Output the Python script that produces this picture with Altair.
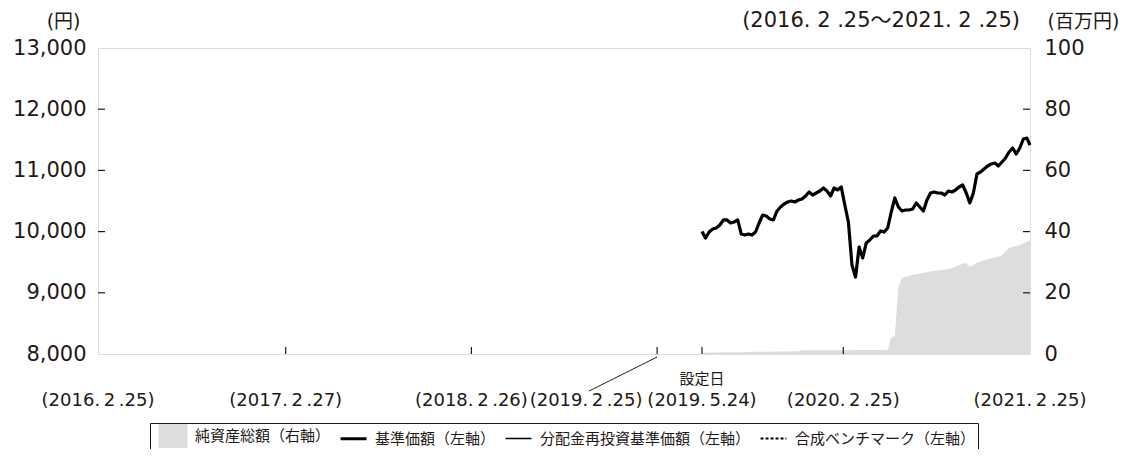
import altair as alt
import pandas as pd

# ---------------- data ----------------
week_start = "2019-05-24"
last_date = "2021-02-25"

# 基準価額 (weekly reading, last value = 2021-02-25)
nav = [10000, 9895, 9993, 10043, 10059, 10108, 10190, 10190, 10141, 10157,
       10190, 9961, 9944, 9961, 9944, 9993, 10141, 10271, 10255, 10206,
       10190, 10337, 10402, 10451, 10484, 10500, 10484, 10516, 10533, 10582,
       10647, 10598, 10631, 10663, 10712, 10663, 10582, 10712, 10680, 10729,
       10435, 10157, 9454, 9258, 9748, 9569, 9814, 9863, 9928, 9928,
       10010, 9993, 10059, 10320, 10549, 10402, 10337, 10353, 10353, 10369,
       10467, 10402, 10337, 10516, 10631, 10647, 10631, 10631, 10598, 10663,
       10647, 10680, 10729, 10761, 10631, 10467, 10631, 10941, 10974, 11023,
       11072, 11105, 11121, 11072, 11137, 11203, 11301, 11366, 11268, 11366,
       11513, 11529, 11415]

# 純資産総額 (百万円)
assets = [0.3, 0.4, 0.5, 0.5, 0.5, 0.6, 0.6, 0.6, 0.6, 0.6,
          0.6, 0.6, 0.6, 0.7, 0.7, 0.7, 0.7, 0.7, 0.7, 0.7,
          0.8, 0.8, 0.8, 0.8, 0.8, 0.9, 0.9, 0.9,
          1.2, 1.2, 1.2, 1.2, 1.2, 1.2, 1.2, 1.2, 1.2, 1.2,
          1.2, 1.2, 1.2, 1.2, 1.2, 1.3, 1.3, 1.3, 1.3, 1.3,
          1.3, 1.3, 1.3, 1.3, 1.3,
          5.5, 5.8, 22.0, 24.8, 25.2, 25.5, 25.8, 26.0, 26.3, 26.5,
          26.8, 27.0, 27.2, 27.3, 27.4, 27.6, 27.8, 28.0, 28.5, 29.0,
          29.5, 29.7, 28.5, 29.2, 29.8, 30.2, 30.6, 31.0, 31.3, 31.6,
          31.9, 32.3, 33.5, 34.6, 35.0, 35.3, 35.6, 36.2, 36.7, 37.0]

dates = pd.date_range(week_start, periods=len(nav) - 1, freq="7D").strftime("%Y-%m-%d").tolist() + [last_date]

S_AREA = "純資産総額（右軸）"
S_NAV = "基準価額（左軸）"
S_RE = "分配金再投資基準価額（左軸）"
S_BM = "合成ベンチマーク（左軸）"
series_domain = [S_AREA, S_NAV, S_RE, S_BM]

tick_dates = ["2016-02-25", "2017-02-27", "2018-02-26", "2019-05-24", "2020-02-25", "2021-02-25"]
tick_labels = ["(2016.\u20092\u2009.25)", "(2017.\u20092\u2009.27)", "(2018.\u20092\u2009.26)",
               "(2019.\u20095.24)", "(2020.\u20092\u2009.25)", "(2021.\u20092\u2009.25)"]
leader_date = ["2019-02-25"]
leader_label = ["(2019.\u20092\u2009.25)"]
inner_tick_dates = ["2017-02-27", "2018-02-26", "2019-02-25", "2019-05-24", "2020-02-25"]
start_label = "設定日"
period_label = "(2016. 2 .25～2021. 2 .25)"

left_ticks = [8000, 9000, 10000, 11000, 12000, 13000]
right_ticks = [0, 20, 40, 60, 80, 100]

# ---------------- styling ----------------
W, H = 932, 306
NUMF = "DejaVu Sans, Noto Sans CJK JP"
JPF = "Noto Sans CJK JP"
TXT = "#231815"
GRAY = "#dcdddd"

xscale = alt.Scale(domain=[alt.DateTime(year=2016, month=2, date=25),
                           alt.DateTime(year=2021, month=2, date=25)], nice=False)
yL = alt.Scale(domain=[8000, 13000], nice=False, zero=False)
yR = alt.Scale(domain=[0, 100], nice=False)

df = pd.DataFrame({"date": dates, "nav": nav, "assets": assets})
x_enc = alt.X("date:T", scale=xscale, axis=None)

area = alt.Chart(df).mark_area(opacity=1, color=GRAY).encode(
    x=x_enc,
    y=alt.Y("assets:Q", scale=yR, axis=alt.Axis(
        orient="right", values=right_ticks, format="d", ticks=False, domain=False, grid=False,
        labelFont=NUMF, labelFontSize=21, labelColor=TXT, labelPadding=14,
        title="(百万円)", titleAngle=0, titleX=17, titleY=-21, titleAlign="left",
        titleBaseline="alphabetic", titleFont=NUMF, titleFontSize=19, titleFontWeight="normal",
        titleColor=TXT)),
)

nav_line = alt.Chart(df).mark_line(strokeWidth=3.2, strokeJoin="round", color="#000000").encode(
    x=x_enc,
    y=alt.Y("nav:Q", scale=yL, axis=alt.Axis(
        orient="left", values=left_ticks, format=",d", ticks=False, domain=False, grid=False,
        labelFont=NUMF, labelFontSize=21, labelColor=TXT, labelPadding=12,
        title="(円)", titleAngle=0, titleX=-18, titleY=-21, titleAlign="right",
        titleBaseline="alphabetic", titleFont=NUMF, titleFontSize=19, titleFontWeight="normal",
        titleColor=TXT)),
)

re_line = alt.Chart(df).mark_line(strokeWidth=1, color="#000000").encode(
    x=x_enc,
    y=alt.Y("nav:Q", scale=yL, axis=None),
)

# legend (driven by an empty point layer whose scales carry the four series)
legend = alt.Legend(orient="none", legendX=52, legendY=375, direction="horizontal",
                    columns=4, title=None, fillColor="white", strokeColor=TXT,
                    padding=2, symbolSize=484, labelFont=JPF, labelFontSize=15,
                    labelColor=TXT, labelOffset=18, columnPadding=1, labelLimit=400,
                    symbolOpacity=1, symbolStrokeColor="#000000", symbolFillColor=GRAY)
legend_df = pd.DataFrame({"series": series_domain})
legend_layer = alt.Chart(legend_df).transform_filter("false").mark_point(
    filled=False, fill=GRAY, opacity=1).encode(
    color=alt.Color("series:N", scale=alt.Scale(domain=series_domain,
                    range=[GRAY, "#000000", "#000000", "#000000"]), legend=legend),
    shape=alt.Shape("series:N", scale=alt.Scale(domain=series_domain,
                    range=["M-0.55,-1.09H2.09V1.09H-0.55Z", "M-0.36,0H2.0", "M-0.36,0H2.0",
                           "M-0.36,0H2.0"]), legend=legend),
    strokeDash=alt.StrokeDash("series:N", scale=alt.Scale(domain=series_domain,
                    range=[[1, 0], [1, 0], [1, 0], [3, 2]]), legend=legend),
    strokeWidth=alt.StrokeWidth("series:N", scale=alt.Scale(type="ordinal", domain=series_domain,
                    range=[0, 3, 1.3, 1.8]), legend=legend),
)

# inward ticks
lt = alt.Chart(pd.DataFrame({"v": left_ticks[1:-1]})).mark_rule(color=TXT, strokeWidth=1.2).encode(
    y=alt.Y("v:Q", scale=yL, axis=None), x=alt.value(0), x2=alt.value(7))
rt = alt.Chart(pd.DataFrame({"v": right_ticks[1:-1]})).mark_rule(color=TXT, strokeWidth=1.2).encode(
    y=alt.Y("v:Q", scale=yR, axis=None), x=alt.value(W), x2=alt.value(W - 7))
bt = alt.Chart(pd.DataFrame({"date": inner_tick_dates})).mark_rule(color=TXT, strokeWidth=1.2).encode(
    x=x_enc, y=alt.value(H), y2=alt.value(H - 7))

# x labels
xl = alt.Chart(pd.DataFrame({"date": tick_dates, "label": tick_labels})).mark_text(
    font=NUMF, fontSize=18, color=TXT, baseline="middle", align="center").encode(
    x=x_enc, y=alt.value(H + 47), text="label:N")
xl2 = alt.Chart(pd.DataFrame({"date": leader_date, "label": leader_label})).mark_text(
    font=NUMF, fontSize=18, color=TXT, baseline="middle", align="center", dx=-71).encode(
    x=x_enc, y=alt.value(H + 47), text="label:N")
leader = alt.Chart(pd.DataFrame({"date": leader_date})).mark_rule(
    color=TXT, strokeWidth=1, x2Offset=-68).encode(
    x=x_enc, x2=alt.X2("date:T"), y=alt.value(H + 3), y2=alt.value(H + 37))
start_txt = alt.Chart(pd.DataFrame({"date": [week_start], "label": [start_label]})).mark_text(
    font=JPF, fontSize=15, color=TXT, baseline="middle", align="center").encode(
    x=x_enc, y=alt.value(H + 25), text="label:N")
period_txt = alt.Chart(pd.DataFrame({"label": [period_label]})).mark_text(
    font=NUMF, fontSize=21, color=TXT, baseline="alphabetic", align="right").encode(
    x=alt.value(W - 10), y=alt.value(-21), text="label:N")

chart = alt.layer(area, nav_line, re_line, legend_layer, lt, rt, bt, xl, xl2, leader,
                  start_txt, period_txt).resolve_scale(
    y="independent"
).properties(
    width=W, height=H,
    autosize=alt.AutoSizeParams(type="none"),
    padding={"left": 90, "top": 40, "right": 90, "bottom": 95},
).configure_view(stroke="#231815", strokeWidth=1.5).configure(background="white")

chart.save("out.html", embed_options={"renderer": "svg", "actions": False})
